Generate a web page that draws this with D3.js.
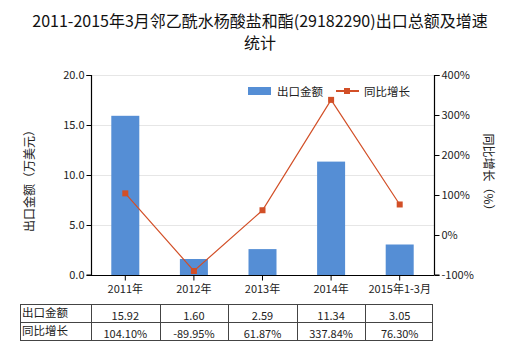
<!DOCTYPE html>
<html><head><meta charset="utf-8">
<script src="https://cdn.jsdelivr.net/npm/d3@7/dist/d3.min.js"></script>
<style>body{margin:0;background:#fff;}svg{display:block;font-family:"Microsoft YaHei","Noto Sans CJK SC",sans-serif;}</style>
</head><body>
<svg id="c" width="520" height="350"></svg>
<script>
const categories = ["2011年","2012年","2013年","2014年","2015年1-3月"];
const exportValues = [15.92, 1.60, 2.59, 11.34, 3.05];
const growthValues = [104.10, -89.95, 61.87, 337.84, 76.30];
const exportLabels = ["15.92","1.60","2.59","11.34","3.05"];
const growthLabels = ["104.10%","-89.95%","61.87%","337.84%","76.30%"];
const leftTicks = [0, 5, 10, 15, 20];
const rightTicks = [-100, 0, 100, 200, 300, 400];

const svg = d3.select("#c");
const L = 91, R = 434, T = 75, B = 275;
const barColor = "#558ed5", lineColor = "#d24f27";

const x = d3.scaleBand().domain(categories).range([L, R]);
const yL = d3.scaleLinear().domain([0, 20]).range([B, T]);
const yR = d3.scaleLinear().domain([-100, 400]).range([B, T]);

// title
const title = svg.append("text").attr("x", 260).attr("text-anchor", "middle").attr("font-size", 16).attr("fill", "#111");
title.append("tspan").attr("x", 260).attr("y", 27).text("2011-2015年3月邻乙酰水杨酸盐和酯(29182290)出口总额及增速");
title.append("tspan").attr("x", 260).attr("y", 49).text("统计");

// grid
svg.append("g").selectAll("line").data(leftTicks.filter(d => d > 0)).join("line")
  .attr("x1", L).attr("x2", R).attr("y1", d => Math.round(yL(d)) + 0.5).attr("y2", d => Math.round(yL(d)) + 0.5)
  .attr("stroke", "#e6e6e6");

// bars
const bw = 28;
svg.append("g").selectAll("rect").data(exportValues).join("rect")
  .attr("x", (d, i) => x(categories[i]) + x.bandwidth() / 2 - bw / 2)
  .attr("width", bw)
  .attr("y", d => yL(d)).attr("height", d => B - yL(d))
  .attr("fill", barColor);

// line
const line = d3.line().x((d, i) => x(categories[i]) + x.bandwidth() / 2).y(d => yR(d));
svg.append("path").datum(growthValues).attr("d", line).attr("fill", "none").attr("stroke", lineColor).attr("stroke-width", 1.2);
svg.append("g").selectAll("rect").data(growthValues).join("rect")
  .attr("x", (d, i) => x(categories[i]) + x.bandwidth() / 2 - 3)
  .attr("y", d => yR(d) - 3).attr("width", 6).attr("height", 6).attr("fill", lineColor);

// axes
const axL = svg.append("g").attr("transform", `translate(${L + 0.5},0)`)
  .call(d3.axisLeft(yL).tickValues(leftTicks).tickFormat(d3.format(".1f")).tickSize(5).tickPadding(2));
const axR = svg.append("g").attr("transform", `translate(${R + 0.5},0)`)
  .call(d3.axisRight(yR).tickValues(rightTicks).tickFormat(d => d + "%").tickSize(5).tickPadding(2));
const axB = svg.append("g").attr("transform", `translate(0,${B + 0.5})`)
  .call(d3.axisBottom(x).tickSize(5).tickPadding(5));
[axL, axR, axB].forEach(a => {
  a.selectAll(".domain").attr("stroke", "#000").attr("stroke-width", 1.2);
  a.selectAll(".tick line").attr("stroke", "#000");
  a.selectAll("text").attr("font-size", 11).attr("fill", "#222").attr("font-family", "\"Microsoft YaHei\",\"Noto Sans CJK SC\",sans-serif");
});
axL.select(".domain").attr("d", `M-5,${T + 0.5}H0V${B}H-5`);
axR.select(".domain").attr("d", `M5,${T + 0.5}H0V${B}H5`);
axB.select(".domain").attr("d", `M${L},0H${R}`);

// axis titles
svg.append("text").attr("transform", `translate(34,178) rotate(-90)`).attr("text-anchor", "middle")
  .attr("font-size", 12).attr("fill", "#222").text("出口金额（万美元）");
svg.append("text").attr("transform", `translate(484,175) rotate(90)`).attr("text-anchor", "middle")
  .attr("font-size", 12).attr("fill", "#222").text("同比增长（%）");

// legend
svg.append("rect").attr("x", 248).attr("y", 87).attr("width", 23).attr("height", 8).attr("fill", barColor);
svg.append("text").attr("x", 277).attr("y", 95.5).attr("font-size", 11.5).attr("fill", "#222").text("出口金额");
svg.append("line").attr("x1", 336).attr("x2", 359).attr("y1", 91).attr("y2", 91).attr("stroke", lineColor).attr("stroke-width", 2);
svg.append("rect").attr("x", 344).attr("y", 88).attr("width", 6).attr("height", 6).attr("fill", lineColor);
svg.append("text").attr("x", 364).attr("y", 95.5).attr("font-size", 11.5).attr("fill", "#222").text("同比增长");

// table
const tb = svg.append("g");
const tL = 20.5, tT = 304.5, rowH = 18;
const tRight = Math.round(R) - 1.5;
const tW = tRight - tL;
tb.append("rect").attr("x", tL).attr("y", tT).attr("width", tW).attr("height", rowH * 2)
  .attr("fill", "none").attr("stroke", "#444");
tb.append("line").attr("x1", tL).attr("x2", tL + tW).attr("y1", tT + rowH).attr("y2", tT + rowH).attr("stroke", "#444");
categories.forEach(c => {
  const xx = Math.round(x(c)) + 0.5;
  tb.append("line").attr("x1", xx).attr("x2", xx).attr("y1", tT).attr("y2", tT + rowH * 2).attr("stroke", "#444");
});
const rows = [["出口金额", exportLabels], ["同比增长", growthLabels]];
rows.forEach((r, ri) => {
  tb.append("text").attr("x", 22).attr("y", tT + ri * rowH + 12.5).attr("font-size", 11.5).attr("fill", "#222").text(r[0]);
  r[1].forEach((v, i) => {
    tb.append("text").attr("x", x(categories[i]) + x.bandwidth() / 2).attr("y", tT + ri * rowH + 15)
      .attr("text-anchor", "middle").attr("font-size", 11).attr("fill", "#222").text(v);
  });
});
</script>
</body></html>
